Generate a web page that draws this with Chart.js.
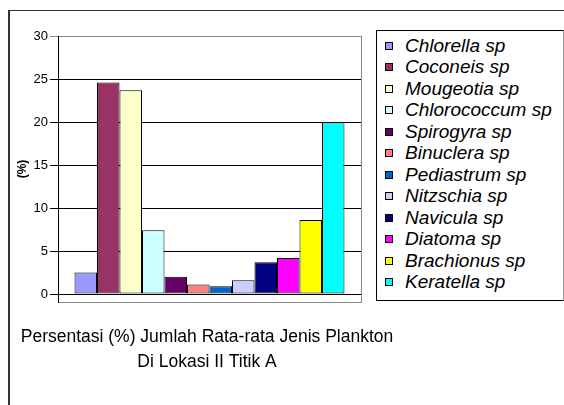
<!DOCTYPE html>
<html>
<head>
<meta charset="utf-8">
<script src="https://cdn.jsdelivr.net/npm/chart.js@4.4.0/dist/chart.umd.min.js"></script>
<style>
body { margin: 0; background: #fff; }
#wrap { position: relative; width: 564px; height: 405px; }
#legend {
    position: absolute; left: 376px; top: 30px; width: 188px; height: 271px;
    box-sizing: border-box; border: 1px solid #000; border-right-color: #999;
    padding: 4px 0 0 8px; background: #fff;
    font-family: "Liberation Sans", Arial, sans-serif; font-style: italic; font-size: 19px; color: #000;
}
.row { height: 21.5px; display: flex; align-items: center; white-space: nowrap; }
.sw { width: 6px; height: 6px; border: 1px solid #000; margin-right: 12px; flex: none; }
</style>
</head>
<body>
<div id="wrap">
    <canvas id="chart" width="564" height="405"></canvas>
    <div id="legend"></div>
</div>
<script>
// data
let species = ["Chlorella sp", "Coconeis sp", "Mougeotia sp", "Chlorococcum sp", "Spirogyra sp", "Binuclera sp",
               "Pediastrum sp", "Nitzschia sp", "Navicula sp", "Diatoma sp", "Brachionus sp", "Keratella sp"];
let percent = [2.5, 24.6, 23.7, 7.4, 2.0, 1.1, 0.9, 1.6, 3.7, 4.2, 8.6, 20.0];
let colors = ["#9999FF", "#993366", "#FFFFCC", "#CCFFFF", "#660066", "#FF8080",
              "#0066CC", "#CCCCFF", "#000080", "#FF00FF", "#FFFF00", "#00FFFF"];
let yTicks = [0, 5, 10, 15, 20, 25, 30];
let titleLines = ["Persentasi (%) Jumlah Rata-rata Jenis Plankton", "Di Lokasi II Titik A"];

let font = "'Liberation Sans', Arial, sans-serif";

// outer frame of the chart object (left and top edges only are visible)
let frame = {
    id: "frame",
    beforeDraw(chart) {
        let c = chart.ctx;
        c.save();
        c.fillStyle = "#fff";
        c.fillRect(0, 0, chart.width, chart.height);
        c.strokeStyle = "#333";
        c.lineWidth = 2;
        c.beginPath();
        c.moveTo(9, 405);
        c.lineTo(9, 10);
        c.stroke();
        c.lineWidth = 1;
        c.beginPath();
        c.moveTo(8, 10.5);
        c.lineTo(564, 10.5);
        c.stroke();
        c.restore();
    }
};

let datasets = species.map((name, i) => ({
    label: name,
    data: [percent[i]],
    backgroundColor: colors[i],
    borderColor: "#000",
    borderWidth: 1,
    borderSkipped: false
}));

new Chart(document.getElementById("chart"), {
    type: "bar",
    data: { labels: [""], datasets: datasets },
    plugins: [frame],
    options: {
        responsive: false,
        animation: false,
        layout: { padding: { left: 10, top: 36, right: 160, bottom: 20.5 } },
        datasets: { bar: { categoryPercentage: 0.891, barPercentage: 1.0 } },
        plugins: {
            legend: { display: false },
            tooltip: { enabled: false },
            title: {
                display: true,
                position: "bottom",
                text: titleLines,
                color: "#000",
                font: { family: font, size: 17.5, weight: "normal", lineHeight: 25 / 17.5 },
                padding: { top: 22.5, bottom: 10 }
            }
        },
        scales: {
            x: {
                ticks: { display: false },
                grid: { display: false },
                border: { color: "#888" },
                afterFit(s) { s.height = 0; }
            },
            y: {
                min: -0.93,
                max: 30,
                afterBuildTicks(s) { s.ticks = yTicks.map(v => ({ value: v })); },
                afterFit(s) { s.width = 48; },
                ticks: { color: "#000", padding: 2, font: { family: font, size: 13 } },
                grid: {
                    color: ctx => (ctx.tick && ctx.tick.value === 30) ? "#888" : "#000",
                    tickLength: 8,
                    lineWidth: 1
                },
                border: { color: "#000" },
                title: {
                    display: true,
                    text: "(%)",
                    color: "#000",
                    font: { family: font, size: 12, weight: "bold" },
                    padding: { top: 5.5, bottom: 0 }
                }
            },
            y2: {
                position: "right",
                ticks: { display: false },
                grid: { display: false },
                border: { color: "#888" },
                afterFit(s) { s.width = 43; }
            }
        }
    }
});

// legend box
let legend = document.getElementById("legend");
species.forEach((name, i) => {
    let row = document.createElement("div");
    row.className = "row";
    let sw = document.createElement("span");
    sw.className = "sw";
    sw.style.background = colors[i];
    let txt = document.createElement("span");
    txt.textContent = name;
    row.appendChild(sw);
    row.appendChild(txt);
    legend.appendChild(row);
});
</script>
</body>
</html>
